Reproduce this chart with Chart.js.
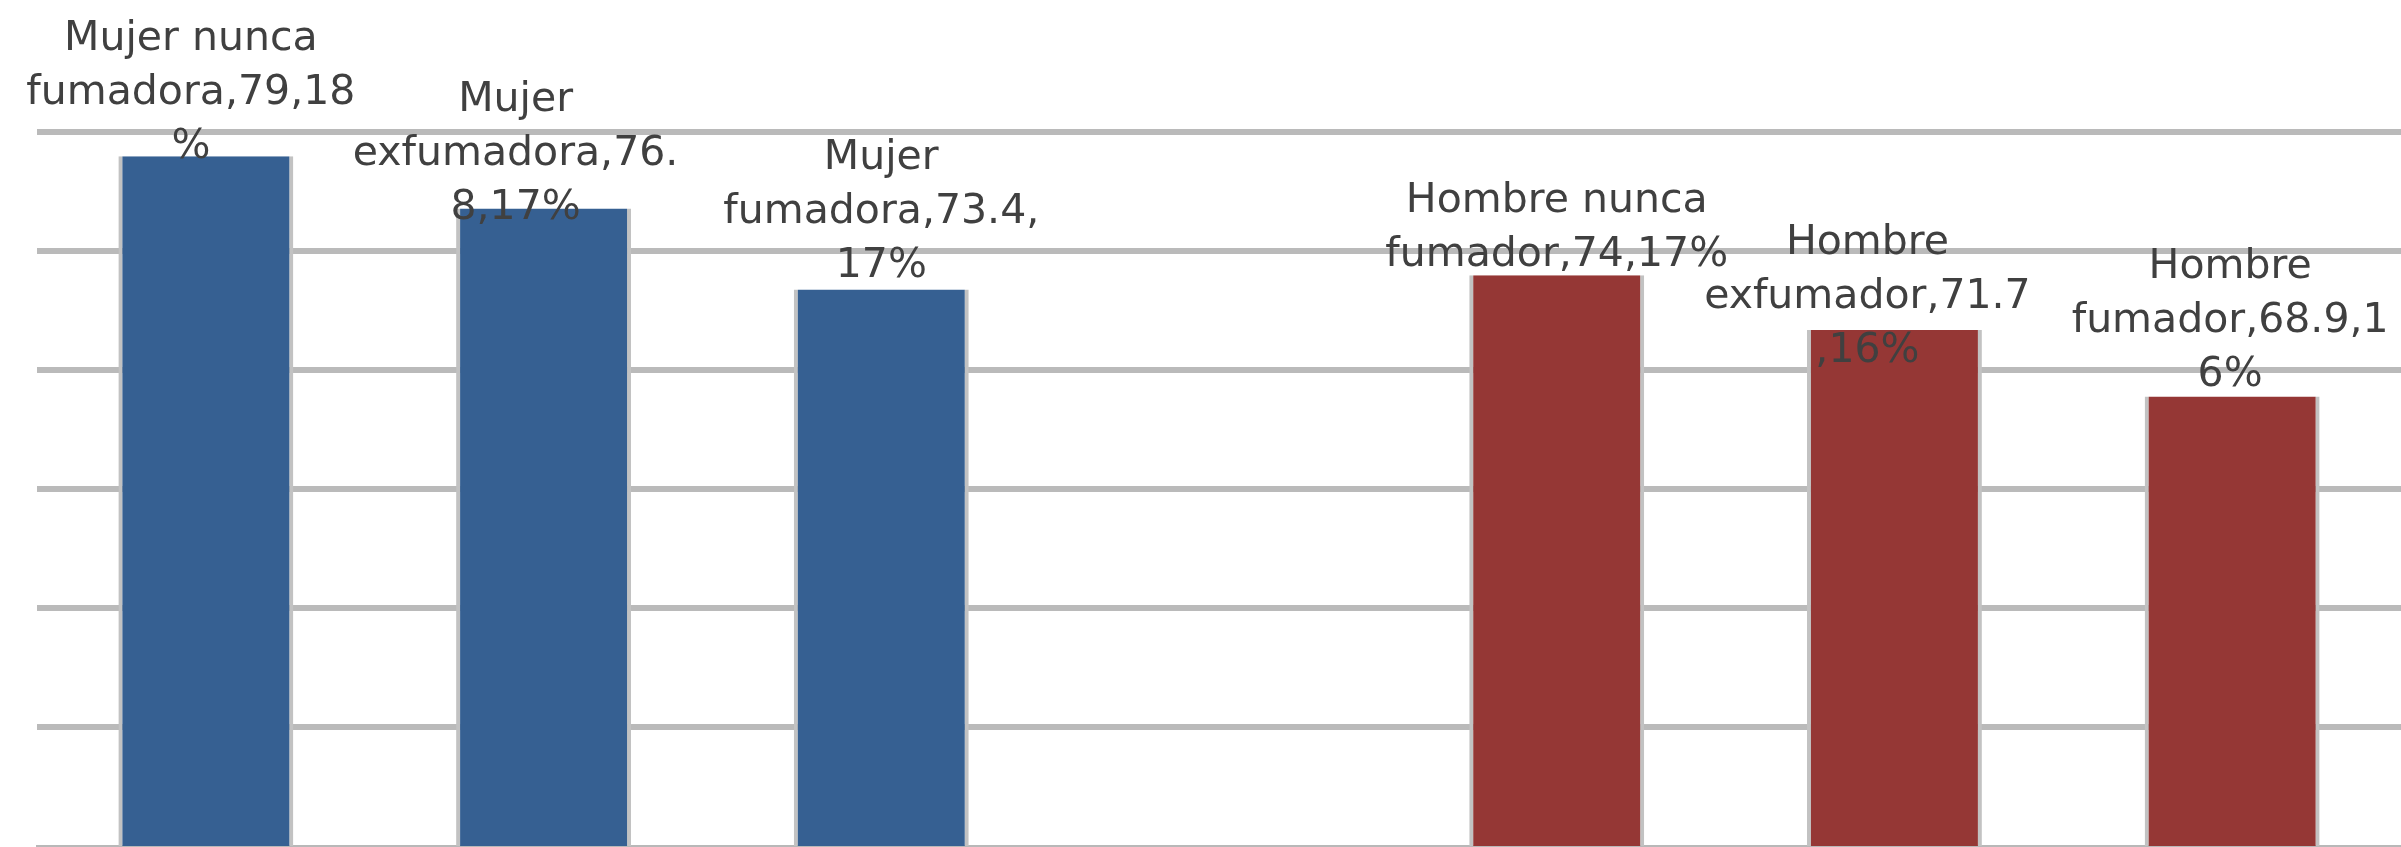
<!DOCTYPE html>
<html>
<head>
<meta charset="utf-8">
<script src="https://cdn.jsdelivr.net/npm/chart.js@4/dist/chart.umd.min.js"></script>
<style>
  html, body { margin: 0; padding: 0; background: #fff; overflow: hidden; }
  #wrap { width: 2401px; height: 847px; }
</style>
</head>
<body>
<div id="wrap"><canvas id="graficoEsperanza" width="2401" height="847"></canvas></div>
<script>
// ------------------ DATOS ------------------
const categorias = ['Mujer nunca fumadora', 'Mujer exfumadora', 'Mujer fumadora', '', 'Hombre nunca fumador', 'Hombre exfumador', 'Hombre fumador'];
const valores = [79, 76.8, 73.4, null, 74, 71.7, 68.9];
const porcentajes = [18, 17, 17, null, 17, 16, 16];

// Texto de las etiquetas tal como lo corta Excel (nombre, valor, porcentaje)
const etiquetas = [
    ['Mujer nunca', 'fumadora,79,18', '%'],
    ['Mujer', 'exfumadora,76.', '8,17%'],
    ['Mujer', 'fumadora,73.4,', '17%'],
    null,
    ['Hombre nunca', 'fumador,74,17%'],
    ['Hombre', 'exfumador,71.7', ',16%'],
    ['Hombre', 'fumador,68.9,1', '6%']
];

const AZUL = '#366092';
const ROJO = '#953735';
const colores = [AZUL, AZUL, AZUL, AZUL, ROJO, ROJO, ROJO];

// Etiquetas de datos encima de cada barra
const etiquetasPlugin = {
    id: 'etiquetas',
    afterDatasetsDraw(chart, args, opts) {
        const ctx = chart.ctx;
        const meta = chart.getDatasetMeta(0);
        ctx.save();
        ctx.font = opts.font;
        ctx.fillStyle = opts.color;
        ctx.textAlign = 'center';
        ctx.textBaseline = 'alphabetic';
        meta.data.forEach((bar, i) => {
            const lineas = etiquetas[i];
            if (!lineas || valores[i] === null) return;
            const [dx, dy] = opts.ajustes[i];
            const ultima = bar.y + dy;
            lineas.forEach((txt, j) => {
                ctx.fillText(txt, bar.x + dx, ultima - (lineas.length - 1 - j) * opts.interlineado);
            });
        });
        ctx.restore();
    }
};

const ctx = document.getElementById('graficoEsperanza').getContext('2d');
const grafico = new Chart(ctx, {
    type: 'bar',
    data: {
        labels: categorias,
        datasets: [{
            data: valores,
            backgroundColor: colores,
            borderColor: '#c2c2c2',
            borderWidth: { left: 4, right: 4, top: 0, bottom: 0 },
            borderSkipped: false,
            barPercentage: 0.518,
            categoryPercentage: 1
        }]
    },
    options: {
        responsive: false,
        animation: false,
        devicePixelRatio: 1,
        layout: { padding: { left: 37, right: 0, top: 0, bottom: 1 } },
        plugins: {
            legend: { display: false },
            tooltip: { enabled: false },
            etiquetas: {
                font: '41px "DejaVu Sans"',
                color: '#404040',
                interlineado: 54,
                // [dx, dy] de la última línea respecto al tope de la barra
                ajustes: [[-15, 2], [-28, 10], [0, -12], [0, 0], [0, -9], [-27, 32], [-2, -10]]
            }
        },
        scales: {
            x: {
                display: true,
                grid: { display: false, drawTicks: false },
                ticks: { display: false },
                border: { display: true, color: '#b8b8b8', width: 2 }
            },
            y: {
                min: 50,
                max: 85.57,
                display: true,
                ticks: { display: false, stepSize: 5, includeBounds: false },
                border: { display: false },
                grid: {
                    drawTicks: false,
                    lineWidth: 6,
                    color: c => (c.tick && c.tick.value > 50 && c.tick.value < 85) ? '#bababa' : 'rgba(0,0,0,0)'
                }
            }
        }
    },
    plugins: [etiquetasPlugin]
});
</script>
</body>
</html>
